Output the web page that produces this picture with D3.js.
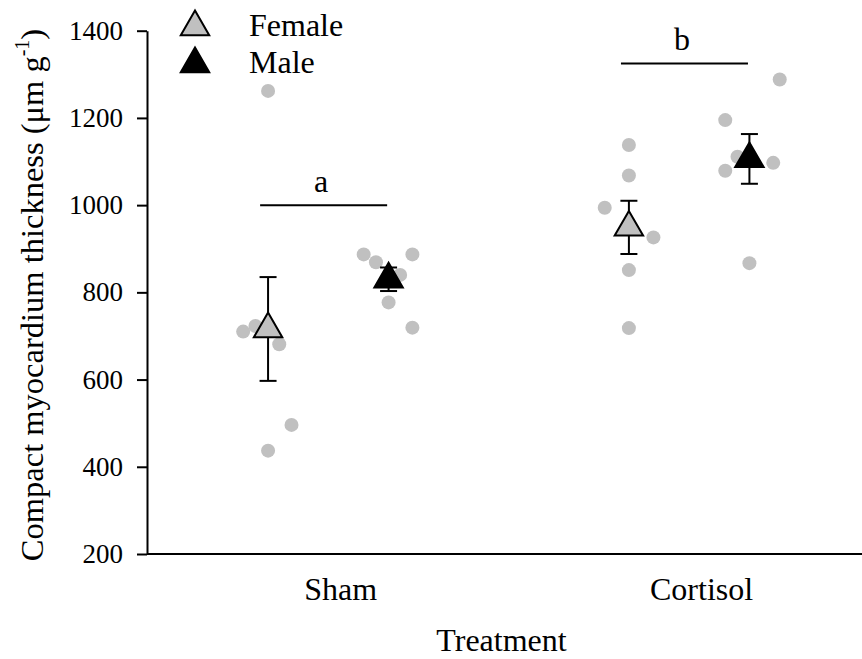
<!DOCTYPE html>
<html>
<head>
<meta charset="utf-8">
<script src="https://cdn.jsdelivr.net/npm/d3@7"></script>
<style>
  html, body { margin: 0; padding: 0; background: #fff; }
  svg { display: block; font-family: "Liberation Serif", "Times New Roman", serif; }
  svg text { font-family: "Liberation Serif", "Times New Roman", serif; }
</style>
</head>
<body>
<svg id="chart" width="862" height="659"></svg>
<script>
// Treatment groups and summary statistics (mean ± SE)
const categories = ["Sham", "Cortisol"];
const femaleMean = [716, 949];
const femaleSE   = [119, 61];
const maleMean   = [830, 1106];
const maleSE     = [27, 57];

// Individual fish values, with small horizontal jitter (in category units)
const femaleValues = [
  [710, 723, 681, 496, 437, 1262],
  [1138, 1068, 994, 926, 851, 718]
];
const femaleJitter = [
  [-0.069, -0.035, 0.031, 0.065, 0, 0],
  [0, 0, -0.067, 0.068, 0, 0]
];
const maleValues = [
  [887, 869, 887, 840, 777, 719],
  [1195, 1111, 1079, 1097, 867, 1288]
];
const maleJitter = [
  [-0.069, -0.035, 0.066, 0.032, 0, 0.066],
  [-0.067, -0.033, -0.067, 0.066, 0, 0.084]
];

// Sex offsets within each treatment group
const sexOffset = { female: -0.2, male: 0.134 };

// Significance letters and the level of their bars
const sigLetters = ["a", "b"];
const sigLevels  = [1000, 1325];
const sigSpan    = [-0.222, 0.13];

const yTicks = [200, 400, 600, 800, 1000, 1200, 1400];

(function draw() {
  const svg = d3.select("#chart");
  const serif = "'Liberation Serif', 'Times New Roman', serif";
  const plotLeft = 147, plotRight = 862, plotTop = 30.7, plotBottom = 554;

  const x = d3.scaleLinear().domain([0.4645, 2.446]).range([plotLeft, plotRight]);
  const y = d3.scaleLinear().domain([200, 1400]).range([plotBottom, plotTop]);

  const grey = "#c0c0c0";

  // Y axis
  const yAxis = svg.append("g")
    .attr("transform", `translate(${plotLeft},0)`)
    .call(d3.axisLeft(y).tickValues(yTicks).tickSize(10).tickSizeOuter(0).tickPadding(14).tickFormat(d3.format("d")))
    .attr("font-family", serif).attr("font-size", 27);
  yAxis.select(".domain").attr("stroke", "#000").attr("stroke-width", 2);
  yAxis.selectAll(".tick line").attr("stroke", "#000").attr("stroke-width", 2);
  yAxis.selectAll(".tick text").attr("fill", "#000");

  // X axis (category labels, no tick marks)
  const xAxis = svg.append("g")
    .attr("transform", `translate(0,${plotBottom})`)
    .call(d3.axisBottom(x).tickValues([1, 2]).tickSize(0).tickSizeOuter(0).tickPadding(23)
      .tickFormat((d, i) => categories[i]))
    .attr("font-family", serif).attr("font-size", 32);
  xAxis.select(".domain").attr("stroke", "#000").attr("stroke-width", 2)
    .attr("d", `M${plotLeft},0H${plotRight}`);
  xAxis.selectAll(".tick text").attr("fill", "#000");

  // Axis titles
  svg.append("text")
    .attr("x", (plotLeft + plotRight) / 2 - 3).attr("y", 651)
    .attr("text-anchor", "middle").attr("font-size", 32).text("Treatment");

  const yTitle = svg.append("text")
    .attr("transform", `translate(43,295) rotate(-90)`)
    .attr("text-anchor", "middle").attr("font-size", 32.5);
  yTitle.append("tspan").text("Compact myocardium thickness (\u03bcm g");
  yTitle.append("tspan").attr("font-size", 20).attr("dy", -14).text("-1");
  yTitle.append("tspan").attr("dy", 14).text(")");

  // Raw data points
  const points = [];
  categories.forEach((c, i) => {
    femaleValues[i].forEach((v, j) => points.push({ x: i + 1 + sexOffset.female + femaleJitter[i][j], v }));
    maleValues[i].forEach((v, j) => points.push({ x: i + 1 + sexOffset.male + maleJitter[i][j], v }));
  });
  svg.append("g").selectAll("circle").data(points).join("circle")
    .attr("cx", d => x(d.x)).attr("cy", d => y(d.v)).attr("r", 7).attr("fill", grey);

  // Group means with SE bars
  const means = [];
  categories.forEach((c, i) => {
    means.push({ x: i + 1 + sexOffset.female, m: femaleMean[i], se: femaleSE[i], fill: grey });
    means.push({ x: i + 1 + sexOffset.male, m: maleMean[i], se: maleSE[i], fill: "#000" });
  });
  const capW = 8.5;
  const eb = svg.append("g").attr("stroke", "#000").attr("stroke-width", 2);
  means.forEach(d => {
    const cx = x(d.x);
    eb.append("line").attr("x1", cx).attr("x2", cx).attr("y1", y(d.m - d.se)).attr("y2", y(d.m + d.se));
    eb.append("line").attr("x1", cx - capW).attr("x2", cx + capW).attr("y1", y(d.m + d.se)).attr("y2", y(d.m + d.se));
    eb.append("line").attr("x1", cx - capW).attr("x2", cx + capW).attr("y1", y(d.m - d.se)).attr("y2", y(d.m - d.se));
  });
  const tri = d3.symbol().type(d3.symbolTriangle).size(350);
  svg.append("g").selectAll("path").data(means).join("path")
    .attr("d", tri).attr("transform", d => `translate(${x(d.x)},${y(d.m)})`)
    .attr("fill", d => d.fill).attr("stroke", "#000").attr("stroke-width", 2);

  // Significance bars and letters
  categories.forEach((c, i) => {
    const x1 = x(i + 1 + sigSpan[0]), x2 = x(i + 1 + sigSpan[1]);
    svg.append("line").attr("x1", x1).attr("x2", x2)
      .attr("y1", y(sigLevels[i])).attr("y2", y(sigLevels[i]))
      .attr("stroke", "#000").attr("stroke-width", 2);
    svg.append("text").attr("x", (x1 + x2) / 2 - 2.5).attr("y", y(sigLevels[i]) - 13)
      .attr("text-anchor", "middle").attr("font-size", 32).text(sigLetters[i]);
  });

  // Legend
  const legend = [
    { label: "Female", fill: grey },
    { label: "Male", fill: "#000" }
  ];
  const lg = svg.append("g");
  legend.forEach((d, i) => {
    const cy = 27 + i * 37;
    lg.append("path").attr("d", tri).attr("transform", `translate(195,${cy})`)
      .attr("fill", d.fill).attr("stroke", "#000").attr("stroke-width", 2);
    lg.append("text").attr("x", 249).attr("y", cy + 9).attr("font-size", 32).text(d.label);
  });
})();
</script>
</body>
</html>
